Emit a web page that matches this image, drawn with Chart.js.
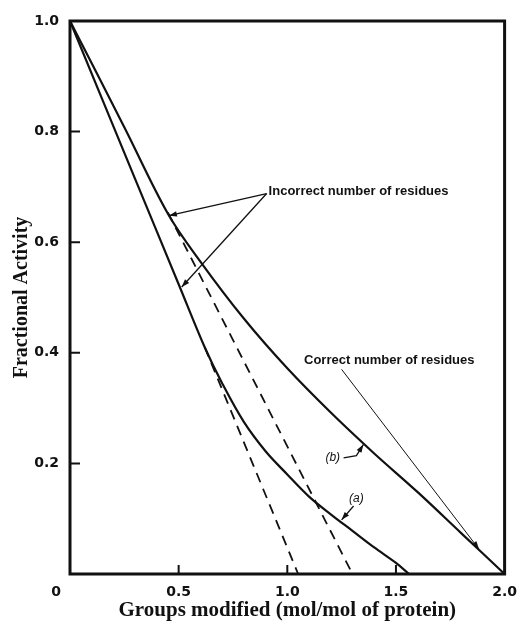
<!DOCTYPE html>
<html>
<head>
<meta charset="utf-8">
<script src="https://cdn.jsdelivr.net/npm/chart.js@4.4.1/dist/chart.umd.min.js"></script>
<style>
    html, body { margin: 0; padding: 0; background: #fff; }
</style>
</head>
<body>
<canvas id="grafico" width="527" height="624"></canvas>
<script>
// valores: x = grupos modificados, y = atividade fracional
const curvaA = [[0, 1], [0.3, 0.714], [0.5, 0.524], [0.62, 0.41], [0.7, 0.345], [0.8, 0.275], [0.9, 0.222],
    [1.0, 0.18], [1.1, 0.14], [1.2, 0.108], [1.3, 0.078], [1.4, 0.048], [1.5, 0.02], [1.56, 0]];
const curvaB = [[0, 1], [0.25, 0.808], [0.45, 0.652], [0.6, 0.565], [0.8, 0.462], [1.0, 0.372], [1.2, 0.292],
    [1.4, 0.218], [1.6, 0.148], [1.8, 0.074], [2.0, 0]];
const tracejadaA = [[0.62, 0.41], [1.05, 0]];
const tracejadaB = [[0.45, 0.654], [1.3, 0]];

// linhas das anotacoes (em unidades dos eixos)
const setaIncorreta1 = [[0.905, 0.688], [0.455, 0.648]];
const setaIncorreta2 = [[0.905, 0.688], [0.514, 0.519]];
const setaCorreta = [[1.25, 0.37], [1.882, 0.045]];
const guiaB = [[1.259, 0.21], [1.318, 0.214], [1.35, 0.234]];
const guiaA = [[1.305, 0.123], [1.25, 0.098]];

const ticksX = [0.5, 1.0, 1.5];
const ticksY = [0.2, 0.4, 0.6, 0.8];

const textos = [
    { t: 'Incorrect number of residues', x: 0.914, y: 0.691, align: 'left', font: 'bold 13px "Liberation Sans"' },
    { t: 'Correct number of residues', x: 1.077, y: 0.387, align: 'left', font: 'bold 13px "Liberation Sans"' },
    { t: '(b)', x: 1.209, y: 0.21, align: 'center', font: 'italic 12px "Liberation Sans"' },
    { t: '(a)', x: 1.318, y: 0.136, align: 'center', font: 'italic 12px "Liberation Sans"' }
];

const pts = arr => arr.map(p => ({ x: p[0], y: p[1] }));
const preto = '#111';

const serie = (arr, extra) => Object.assign({
    data: pts(arr),
    showLine: true,
    pointRadius: 0,
    borderColor: preto,
    borderWidth: 2.2,
    tension: 0,
    clip: false
}, extra);

const extras = {
    id: 'extras',
    afterDatasetsDraw(chart) {
        const { ctx, chartArea: a, scales: { x, y } } = chart;
        ctx.save();
        ctx.strokeStyle = preto;
        ctx.fillStyle = preto;

        // moldura
        ctx.lineWidth = 3;
        ctx.strokeRect(a.left, a.top, a.right - a.left, a.bottom - a.top);

        // marcas para dentro
        ctx.lineWidth = 2;
        ctx.beginPath();
        ticksX.forEach(v => {
            const px = x.getPixelForValue(v);
            ctx.moveTo(px, a.bottom);
            ctx.lineTo(px, a.bottom - 9);
        });
        ticksY.forEach(v => {
            const py = y.getPixelForValue(v);
            ctx.moveTo(a.left, py);
            ctx.lineTo(a.left + 10, py);
        });
        ctx.stroke();

        // o "0" do canto
        ctx.font = 'bold 14px "DejaVu Sans"';
        ctx.textAlign = 'center';
        ctx.textBaseline = 'middle';
        ctx.fillText('0', a.left - 14, a.bottom + 18);

        // pontas das setas
        [setaIncorreta1, setaIncorreta2, setaCorreta, guiaB, guiaA].forEach(s => {
            const p1 = s[s.length - 2], p2 = s[s.length - 1];
            const x1 = x.getPixelForValue(p1[0]), y1 = y.getPixelForValue(p1[1]);
            const x2 = x.getPixelForValue(p2[0]), y2 = y.getPixelForValue(p2[1]);
            const ang = Math.atan2(y2 - y1, x2 - x1);
            const L = 8, W = 2.8;
            ctx.beginPath();
            ctx.moveTo(x2, y2);
            ctx.lineTo(x2 - L * Math.cos(ang) + W * Math.sin(ang), y2 - L * Math.sin(ang) - W * Math.cos(ang));
            ctx.lineTo(x2 - L * Math.cos(ang) - W * Math.sin(ang), y2 - L * Math.sin(ang) + W * Math.cos(ang));
            ctx.closePath();
            ctx.fill();
        });

        // textos
        textos.forEach(o => {
            ctx.font = o.font;
            ctx.textAlign = o.align;
            ctx.textBaseline = 'middle';
            ctx.fillText(o.t, x.getPixelForValue(o.x), y.getPixelForValue(o.y));
        });
        ctx.restore();
    }
};

window.renderizarGrafico = (canvasId) => {
    const ctx = document.getElementById(canvasId);
    if (!ctx) return;

    new Chart(ctx, {
        type: 'scatter',
        data: {
            datasets: [
                serie(curvaA, { tension: 0.35 }),
                serie(curvaB, { tension: 0.35 }),
                serie(tracejadaA, { borderWidth: 1.8, borderDash: [10, 7] }),
                serie(tracejadaB, { borderWidth: 1.8, borderDash: [10, 7] }),
                serie(setaIncorreta1, { borderWidth: 1.3 }),
                serie(setaIncorreta2, { borderWidth: 1.3 }),
                serie(setaCorreta, { borderWidth: 1 }),
                serie(guiaB, { borderWidth: 1.3 }),
                serie(guiaA, { borderWidth: 1.3 })
            ]
        },
        options: {
            responsive: false,
            animation: false,
            devicePixelRatio: 1,
            layout: { padding: { top: 21, right: 17, left: 0, bottom: 0 } },
            plugins: { legend: { display: false }, tooltip: { enabled: false } },
            scales: {
                x: {
                    type: 'linear', min: 0, max: 2,
                    grid: { display: false, drawTicks: false },
                    border: { display: false },
                    afterFit: s => { s.height = 50; },
                    ticks: {
                        stepSize: 0.5, padding: 10, color: preto,
                        font: { family: 'DejaVu Sans', weight: 'bold', size: 14 },
                        callback: v => v === 0 ? '' : v.toFixed(1)
                    },
                    title: {
                        display: true, text: 'Groups modified (mol/mol of protein)', color: preto,
                        font: { family: 'Liberation Serif', weight: 'bold', size: 21 },
                        padding: { top: 0, bottom: 1 }
                    }
                },
                y: {
                    type: 'linear', min: 0, max: 1,
                    grid: { display: false, drawTicks: false },
                    border: { display: false },
                    afterFit: s => { s.width = 70; },
                    ticks: {
                        stepSize: 0.2, padding: 11, color: preto,
                        font: { family: 'DejaVu Sans', weight: 'bold', size: 14 },
                        callback: v => v === 0 ? '' : v.toFixed(1)
                    },
                    title: {
                        display: true, text: 'Fractional Activity', color: preto,
                        font: { family: 'Liberation Serif', weight: 'bold', size: 20 },
                        padding: { top: 10, bottom: 0 }
                    }
                }
            }
        },
        plugins: [extras]
    });
};

window.renderizarGrafico('grafico');
</script>
</body>
</html>
